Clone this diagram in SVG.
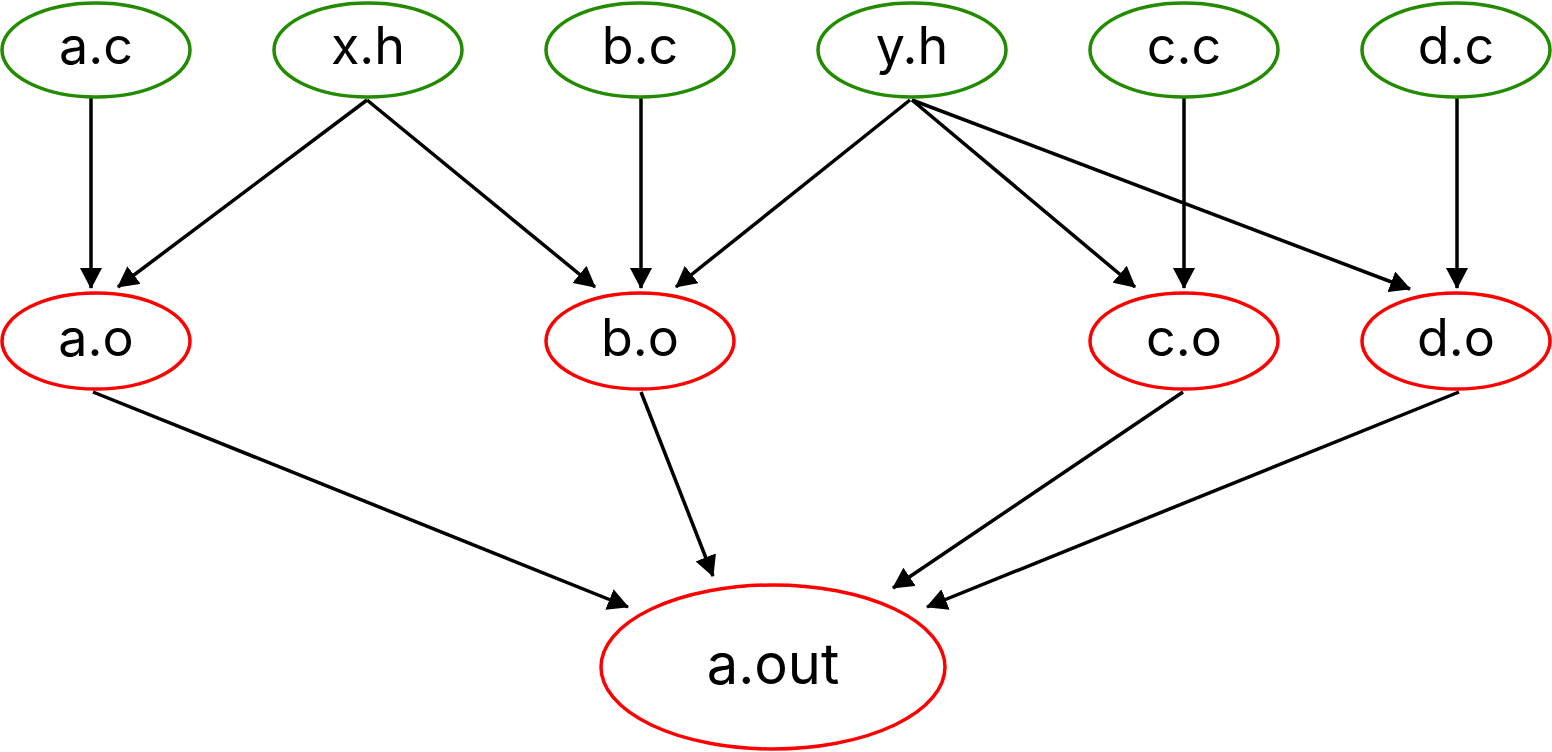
<svg xmlns="http://www.w3.org/2000/svg" width="1552" height="752" viewBox="0 0 1552 752">
<style>
.g{fill:#fff;stroke:#228b00;stroke-width:3.5}
.r{fill:#fff;stroke:#ff0000;stroke-width:3.5}
text{font-family:Inter,"Liberation Sans",sans-serif;font-size:52px;fill:#000;text-anchor:middle}
text.big{font-size:56px}
#edges line{stroke:#000;stroke-width:3.5;marker-end:url(#ah)}
</style>
<defs>
<marker id="ah" markerUnits="userSpaceOnUse" markerWidth="21" markerHeight="22" refX="20" refY="11" orient="auto" viewBox="0 0 21 22">
<path d="M0,0 L21,11 L0,22 Z" fill="#000"/>
</marker>
</defs>
<rect width="1552" height="752" fill="#fff"/>
<g id="edges">
<line x1="91" y1="98" x2="91" y2="288"/>
<line x1="367" y1="100" x2="118" y2="287"/>
<line x1="367" y1="100" x2="595" y2="287"/>
<line x1="641" y1="98" x2="641" y2="288"/>
<line x1="910" y1="100" x2="676" y2="287"/>
<line x1="912" y1="100" x2="1135" y2="287"/>
<line x1="912" y1="100" x2="1410" y2="289"/>
<line x1="1184" y1="98" x2="1184" y2="288"/>
<line x1="1457" y1="98" x2="1457" y2="288"/>
<line x1="93" y1="392" x2="628" y2="607"/>
<line x1="641" y1="392" x2="713" y2="576"/>
<line x1="1183" y1="392" x2="893" y2="588"/>
<line x1="1459" y1="392" x2="927" y2="607"/>
</g>
<g id="n-ac"><ellipse class="g" cx="96" cy="50" rx="94" ry="47"/><text x="96" y="64">a.c</text></g>
<g id="n-xh"><ellipse class="g" cx="368" cy="50" rx="94" ry="47"/><text x="368" y="64">x.h</text></g>
<g id="n-bc"><ellipse class="g" cx="640" cy="50" rx="94" ry="47"/><text x="640" y="64">b.c</text></g>
<g id="n-yh"><ellipse class="g" cx="912" cy="50" rx="94" ry="47"/><text x="912" y="64">y.h</text></g>
<g id="n-cc"><ellipse class="g" cx="1184" cy="50" rx="94" ry="47"/><text x="1184" y="64">c.c</text></g>
<g id="n-dc"><ellipse class="g" cx="1456" cy="50" rx="94" ry="47"/><text x="1456" y="64">d.c</text></g>
<g id="n-ao"><ellipse class="r" cx="96" cy="341" rx="94" ry="48"/><text x="96" y="356">a.o</text></g>
<g id="n-bo"><ellipse class="r" cx="640" cy="341" rx="94" ry="48"/><text x="640" y="356">b.o</text></g>
<g id="n-co"><ellipse class="r" cx="1184" cy="341" rx="94" ry="48"/><text x="1184" y="356">c.o</text></g>
<g id="n-do"><ellipse class="r" cx="1456" cy="341" rx="94" ry="48"/><text x="1456" y="356">d.o</text></g>
<g id="n-aout"><ellipse class="r" cx="773" cy="667" rx="172" ry="82"/><text class="big" x="773" y="684">a.out</text></g>
</svg>
